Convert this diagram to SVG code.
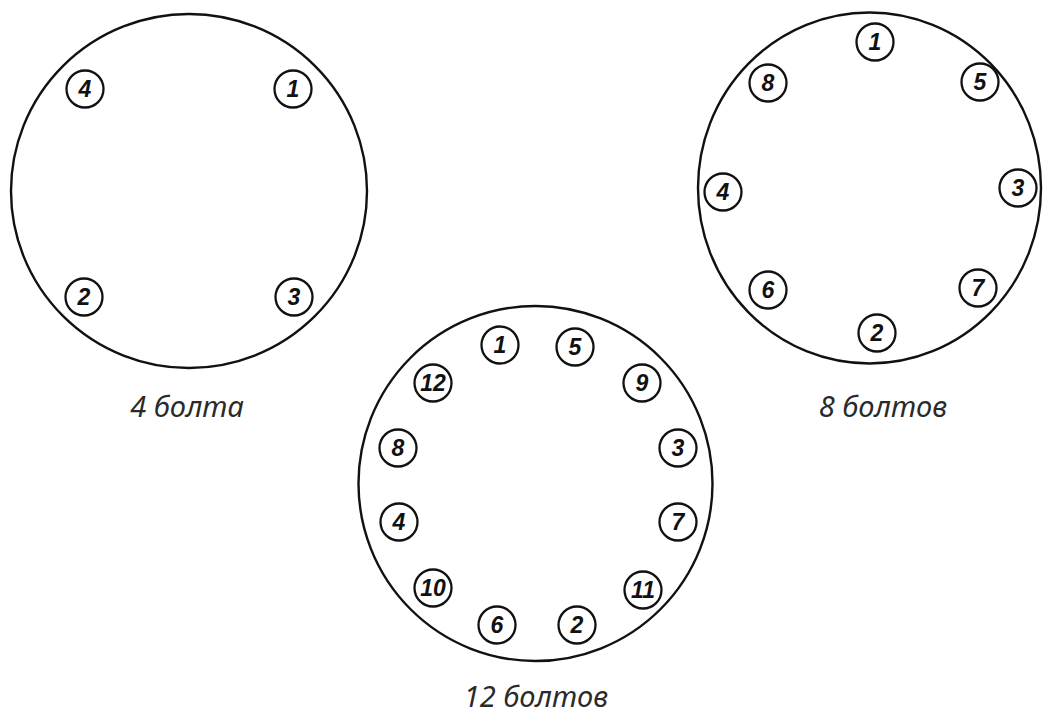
<svg xmlns="http://www.w3.org/2000/svg" width="1046" height="713" viewBox="0 0 1046 713">
<style>
.flange{fill:none;stroke:#111;stroke-width:2.4}
.bolt circle{fill:none;stroke:#111;stroke-width:2.3}
.bolt text{font-family:"Liberation Sans",Arial,sans-serif;font-style:italic;font-weight:bold;font-size:23px;fill:#111;text-anchor:middle}
.cap{font-family:"Noto Sans","Liberation Sans",sans-serif;font-style:italic;font-size:29px;fill:#2a2a2a;text-anchor:middle}
</style>
<rect width="1046" height="713" fill="#fff"/>
<g id="flange4">
<ellipse class="flange" cx="189" cy="191" rx="178" ry="177"/>
<g class="bolt" id="b4-1"><circle cx="293" cy="89" r="18.5"/><text x="293" y="97.2">1</text></g>
<g class="bolt" id="b4-2"><circle cx="84" cy="297" r="18.5"/><text x="84" y="305.2">2</text></g>
<g class="bolt" id="b4-3"><circle cx="294" cy="297" r="18.5"/><text x="294" y="305.2">3</text></g>
<g class="bolt" id="b4-4"><circle cx="85" cy="89" r="18.5"/><text x="85" y="97.2">4</text></g>
<text class="cap" x="187" y="417">4 болта</text>
</g>
<g id="flange8">
<ellipse class="flange" cx="869.5" cy="188" rx="171.5" ry="175.5"/>
<g class="bolt" id="b8-1"><circle cx="875" cy="42" r="18.5"/><text x="875" y="50.2">1</text></g>
<g class="bolt" id="b8-2"><circle cx="877" cy="333" r="18.5"/><text x="877" y="341.2">2</text></g>
<g class="bolt" id="b8-3"><circle cx="1018" cy="188" r="18.5"/><text x="1018" y="196.2">3</text></g>
<g class="bolt" id="b8-4"><circle cx="723" cy="192" r="18.5"/><text x="723" y="200.2">4</text></g>
<g class="bolt" id="b8-5"><circle cx="980" cy="82" r="18.5"/><text x="980" y="90.2">5</text></g>
<g class="bolt" id="b8-6"><circle cx="768" cy="290" r="18.5"/><text x="768" y="298.2">6</text></g>
<g class="bolt" id="b8-7"><circle cx="978" cy="288" r="18.5"/><text x="978" y="296.2">7</text></g>
<g class="bolt" id="b8-8"><circle cx="768" cy="83" r="18.5"/><text x="768" y="91.2">8</text></g>
<text class="cap" x="883" y="417">8 болтов</text>
</g>
<g id="flange12">
<ellipse class="flange" cx="535.5" cy="483.5" rx="177" ry="177.5"/>
<g class="bolt" id="b12-1"><circle cx="500" cy="345" r="18.5"/><text x="500" y="353.2">1</text></g>
<g class="bolt" id="b12-2"><circle cx="577" cy="625" r="18.5"/><text x="577" y="633.2">2</text></g>
<g class="bolt" id="b12-3"><circle cx="678" cy="448" r="18.5"/><text x="678" y="456.2">3</text></g>
<g class="bolt" id="b12-4"><circle cx="399" cy="522" r="18.5"/><text x="399" y="530.2">4</text></g>
<g class="bolt" id="b12-5"><circle cx="575" cy="347" r="18.5"/><text x="575" y="355.2">5</text></g>
<g class="bolt" id="b12-6"><circle cx="497" cy="625" r="18.5"/><text x="497" y="633.2">6</text></g>
<g class="bolt" id="b12-7"><circle cx="678" cy="522" r="18.5"/><text x="678" y="530.2">7</text></g>
<g class="bolt" id="b12-8"><circle cx="398" cy="448" r="18.5"/><text x="398" y="456.2">8</text></g>
<g class="bolt" id="b12-9"><circle cx="642" cy="383" r="18.5"/><text x="642" y="391.2">9</text></g>
<g class="bolt" id="b12-10"><circle cx="433" cy="588" r="18.5"/><text x="433" y="596.2">10</text></g>
<g class="bolt" id="b12-11"><circle cx="643" cy="590" r="18.5"/><text x="643" y="598.2">11</text></g>
<g class="bolt" id="b12-12"><circle cx="433" cy="383" r="18.5"/><text x="433" y="391.2">12</text></g>
<text class="cap" x="536" y="707">12 болтов</text>
</g>
<g id="connectors"/>
</svg>
